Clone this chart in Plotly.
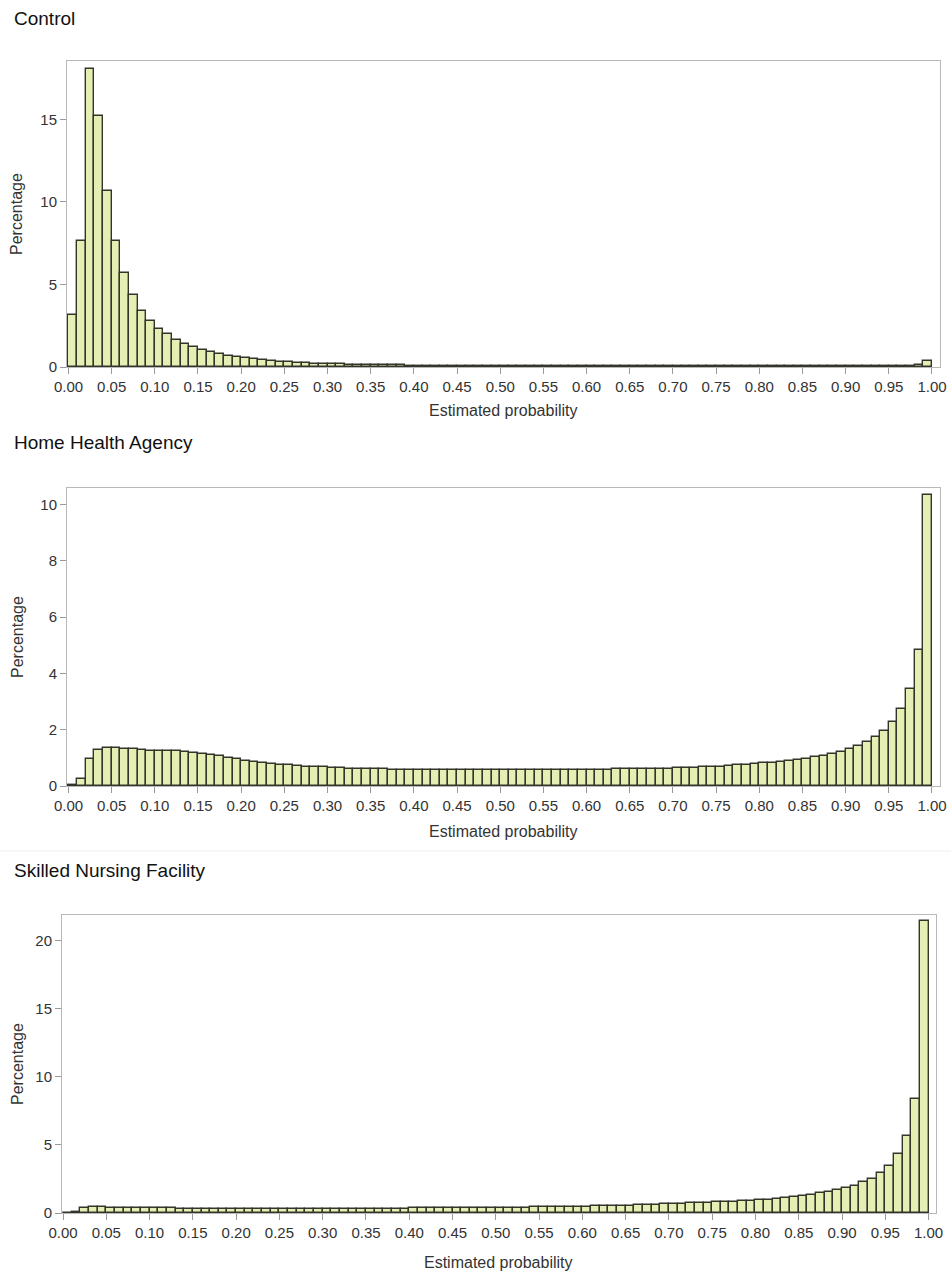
import plotly.graph_objects as go

W, H = 951, 1273

bin_left = [i / 100 for i in range(100)]
bin_width = 0.01

control = [3.18, 7.64, 18.04, 15.2, 10.68, 7.64, 5.67, 4.36, 3.40, 2.78,
           2.33, 1.99, 1.66, 1.42, 1.22, 1.05, 0.91, 0.79, 0.69, 0.60,
           0.52, 0.46, 0.41, 0.36, 0.32, 0.29, 0.26, 0.23, 0.21, 0.19,
           0.17, 0.16, 0.15, 0.14, 0.13, 0.12, 0.11, 0.10, 0.10, 0.09,
           0.09, 0.08, 0.08, 0.07, 0.07, 0.07, 0.06, 0.06, 0.06, 0.06,
           0.05, 0.05, 0.05, 0.05, 0.05, 0.05, 0.05, 0.05, 0.05, 0.05,
           0.04, 0.04, 0.04, 0.04, 0.04, 0.04, 0.04, 0.04, 0.04, 0.04,
           0.04, 0.04, 0.04, 0.04, 0.04, 0.04, 0.04, 0.04, 0.04, 0.04,
           0.04, 0.04, 0.04, 0.04, 0.04, 0.04, 0.04, 0.05, 0.05, 0.05,
           0.05, 0.05, 0.05, 0.05, 0.06, 0.06, 0.07, 0.09, 0.13, 0.38]

home_health = [0.02, 0.26, 0.97, 1.29, 1.35, 1.35, 1.33, 1.30, 1.27, 1.25,
               1.25, 1.25, 1.24, 1.21, 1.17, 1.14, 1.09, 1.05, 1.00, 0.95,
               0.90, 0.86, 0.82, 0.79, 0.76, 0.73, 0.71, 0.69, 0.67, 0.66,
               0.64, 0.63, 0.62, 0.61, 0.60, 0.59, 0.59, 0.58, 0.58, 0.57,
               0.57, 0.57, 0.57, 0.56, 0.56, 0.56, 0.56, 0.56, 0.56, 0.56,
               0.56, 0.56, 0.56, 0.56, 0.56, 0.56, 0.56, 0.56, 0.57, 0.57,
               0.57, 0.58, 0.58, 0.59, 0.59, 0.60, 0.60, 0.61, 0.62, 0.62,
               0.63, 0.64, 0.65, 0.66, 0.67, 0.69, 0.71, 0.73, 0.75, 0.78,
               0.80, 0.83, 0.86, 0.89, 0.93, 0.97, 1.02, 1.08, 1.14, 1.22,
               1.30, 1.42, 1.56, 1.74, 1.96, 2.28, 2.72, 3.46, 4.82, 10.34]

skilled_nursing = [0.02, 0.10, 0.36, 0.44, 0.42, 0.40, 0.38, 0.37, 0.36, 0.35,
                   0.35, 0.34, 0.34, 0.33, 0.33, 0.32, 0.32, 0.31, 0.31, 0.31,
                   0.30, 0.30, 0.30, 0.30, 0.30, 0.30, 0.30, 0.30, 0.30, 0.30,
                   0.31, 0.31, 0.31, 0.31, 0.32, 0.32, 0.32, 0.33, 0.33, 0.33,
                   0.34, 0.34, 0.34, 0.35, 0.35, 0.35, 0.36, 0.36, 0.37, 0.37,
                   0.38, 0.38, 0.39, 0.40, 0.41, 0.42, 0.43, 0.44, 0.45, 0.46,
                   0.47, 0.49, 0.50, 0.52, 0.53, 0.55, 0.57, 0.59, 0.61, 0.63,
                   0.66, 0.68, 0.71, 0.73, 0.76, 0.78, 0.81, 0.83, 0.86, 0.88,
                   0.93, 0.98, 1.03, 1.08, 1.18, 1.25, 1.35, 1.44, 1.57, 1.69,
                   1.81, 2.00, 2.25, 2.50, 2.94, 3.48, 4.33, 5.68, 8.37, 21.47]

panel_titles = ["Control", "Home Health Agency", "Skilled Nursing Facility"]
x_ticks = [i * 0.05 for i in range(21)]
x_tick_labels = [f"{v:.2f}" for v in x_ticks]
y_ticks = [[0, 5, 10, 15], [0, 2, 4, 6, 8, 10], [0, 5, 10, 15, 20]]
y_max = [18.54, 10.59, 21.9]

# panel geometry in pixels: left, right, top, bottom, x-range
panels = [
    dict(l=67, r=940, t=61, b=367, xr=[-0.0017, 1.0093], title_y=18, xt_y=410),
    dict(l=67, r=940, t=488, b=786, xr=[-0.0017, 1.0093], title_y=442, xt_y=831),
    dict(l=62, r=936, t=915, b=1213, xr=[-0.0012, 1.0086], title_y=870, xt_y=1262),
]

series = [control, home_health, skilled_nursing]

FILL = "#e5eeb3"
EDGE = "#34342a"
FRAME = "#b8b8b8"
TXT = "#333333"
FONT = "Liberation Sans, Arial, sans-serif"

fig = go.Figure()
layout = dict(
    width=W, height=H, margin=dict(l=0, r=0, t=0, b=0, autoexpand=False),
    paper_bgcolor="white", plot_bgcolor="white", showlegend=False,
    font=dict(family=FONT, size=15, color=TXT), bargap=0,
)
annotations = []

for i, (p, vals) in enumerate(zip(panels, series)):
    xa = "xaxis" if i == 0 else f"xaxis{i+1}"
    ya = "yaxis" if i == 0 else f"yaxis{i+1}"
    xref = "x" if i == 0 else f"x{i+1}"
    yref = "y" if i == 0 else f"y{i+1}"
    centers = [b + bin_width / 2 for b in bin_left]
    fig.add_trace(go.Bar(
        x=centers, y=vals, width=bin_width, xaxis=xref, yaxis=yref,
        marker=dict(color=FILL, line=dict(color=EDGE, width=1.4)),
        hoverinfo="x+y",
    ))
    layout[xa] = dict(
        domain=[p["l"] / W, p["r"] / W], anchor=yref, range=p["xr"],
        tickmode="array", tickvals=x_ticks, ticktext=x_tick_labels,
        ticks="outside", ticklen=6, tickcolor="#9a9a9a",
        showline=True, linecolor=FRAME, linewidth=1, mirror=True,
        showgrid=False, zeroline=False, automargin=False,
        tickfont=dict(size=15, color=TXT, family=FONT),
    )
    layout[ya] = dict(
        domain=[1 - p["b"] / H, 1 - p["t"] / H], anchor=xref,
        range=[0, y_max[i]], tickvals=y_ticks[i],
        ticks="outside", ticklen=6, tickcolor="#9a9a9a",
        showline=True, linecolor=FRAME, linewidth=1, mirror=True,
        showgrid=False, zeroline=False, automargin=False,
        tickfont=dict(size=15, color=TXT, family=FONT),
    )
    annotations.append(dict(
        text=panel_titles[i], xref="paper", yref="paper",
        x=12 / W, y=1 - p["title_y"] / H, xanchor="left", yanchor="middle",
        showarrow=False, font=dict(size=19, color="#111111", family=FONT),
    ))
    annotations.append(dict(
        text="Estimated probability", xref="paper", yref="paper",
        x=((p["l"] + p["r"]) / 2) / W, y=1 - p["xt_y"] / H,
        xanchor="center", yanchor="middle", showarrow=False,
        font=dict(size=16, color=TXT, family=FONT),
    ))
    annotations.append(dict(
        text="Percentage", xref="paper", yref="paper", textangle=-90,
        x=17 / W, y=1 - ((p["t"] + p["b"]) / 2) / H,
        xanchor="center", yanchor="middle", showarrow=False,
        font=dict(size=16, color=TXT, family=FONT),
    ))

layout["annotations"] = annotations
layout["shapes"] = [dict(type="line", xref="paper", yref="paper",
                         x0=0, x1=1, y0=1 - 851 / H, y1=1 - 851 / H,
                         line=dict(color="#eeeeee", width=1))]
fig.update_layout(**layout)
fig.write_html(
    "out.html",
    config={"displayModeBar": False},
    post_script="document.body.style.margin='0';document.body.style.overflow='hidden';",
)
